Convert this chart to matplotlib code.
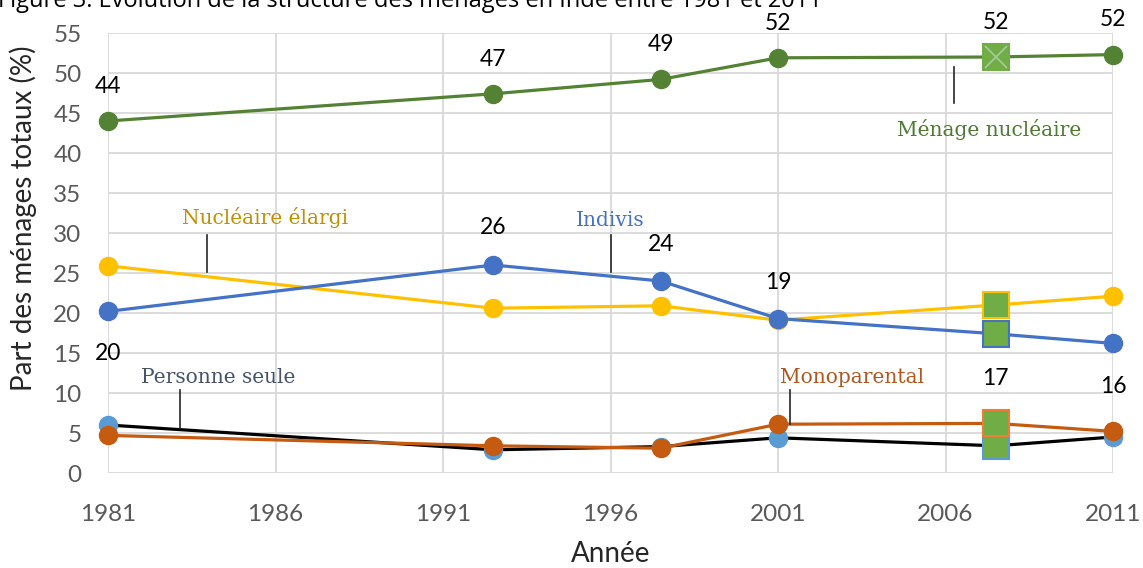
import matplotlib.pyplot as plt

# données
annees = [1981, 1992.5, 1997.5, 2001, 2007.5, 2011]
nucleaire = [44.0, 47.4, 49.2, 51.9, 52.0, 52.3]
elargi = [25.9, 20.6, 20.9, 19.1, 21.0, 22.1]
indivis = [20.2, 26.0, 24.0, 19.3, 17.4, 16.2]
seule = [6.0, 2.9, 3.3, 4.4, 3.4, 4.5]
monoparental = [4.7, 3.4, 3.1, 6.1, 6.2, 5.2]

lab_nucleaire = ['44', '47', '49', '52', '52', '52']
lab_indivis = ['20', '26', '24', '19', '17', '16']

x_ticks = [1981, 1986, 1991, 1996, 2001, 2006, 2011]
y_ticks = list(range(0, 56, 5))

titre = "Figure 3. Évolution de la structure des ménages en Inde entre 1981 et 2011"

# styles
num_font = 'Lato'
serif_font = 'DejaVu Serif'
c_vert = '#548235'
c_jaune = '#FFC000'
c_bleu = '#4472C4'
c_bleuclair = '#5B9BD5'
c_orange = '#C55A11'
c_carre = '#70AD47'

fig = plt.figure(figsize=(11.43, 5.68), dpi=100)
ax = fig.add_axes([108/1143, 1-473/568, (1113-108)/1143, (473-33)/568])

ms = 13
carre = 19
i8 = 4  # point 2007-08 dessiné en carré

def serie(y, lc, mc, ec):
    xs = [a for i, a in enumerate(annees) if i != i8]
    ys = [v for i, v in enumerate(y) if i != i8]
    ax.plot(annees, y, color=lc, lw=2.3, zorder=3, clip_on=False)
    ax.plot(xs, ys, 'o', color=mc, ms=ms, zorder=4, clip_on=False)
    ax.plot(annees[i8], y[i8], 's', mfc=c_carre, mec=ec, mew=1.5, ms=carre, zorder=5, clip_on=False)

serie(seule, 'black', c_bleuclair, c_bleuclair)
serie(monoparental, c_orange, c_orange, '#ED7D31')
serie(elargi, c_jaune, c_jaune, c_jaune)
serie(indivis, c_bleu, c_bleu, c_bleu)
serie(nucleaire, c_vert, c_vert, c_carre)
ax.plot(annees[i8], nucleaire[i8], 'x', color='#A9C99A', ms=carre-3, mew=1.2, zorder=6, clip_on=False)

# étiquettes de valeurs
for a, v, t in zip(annees, nucleaire, lab_nucleaire):
    ax.annotate(t, (a, v), xytext=(0, 25), textcoords='offset points', ha='center', va='center',
                fontsize=16.5, family=num_font, color='black', annotation_clip=False)
off_indivis = [-30, 27, 26, 26, -32, -31]
for a, v, t, o in zip(annees, indivis, lab_indivis, off_indivis):
    ax.annotate(t, (a, v), xytext=(0, o), textcoords='offset points', ha='center', va='center',
                fontsize=16.5, family=num_font, color='black', annotation_clip=False)

# noms des séries avec traits
noms = [
    ('Ménage nucléaire', 2007.3, 42.9, 2006.25, 50.75, 46.25, '#4E7A35'),
    ('Nucléaire élargi', 1985.7, 31.9, 1983.95, 29.75, 25.1, '#BF9000'),
    ('Indivis', 1996.0, 31.6, 1996.0, 29.75, 25.1, c_bleu),
    ('Personne seule', 1984.3, 11.9, 1983.15, 10.4, 5.6, '#44546A'),
    ('Monoparental', 2003.2, 11.9, 2001.35, 10.4, 6.1, '#B0561E'),
]
for t, tx, ty, lx, y1, y2, c in noms:
    ax.text(tx, ty, t, ha='center', va='center', fontsize=14.5, family=serif_font, color=c)
    ax.plot([lx, lx], [y1, y2], color='#262626', lw=1.2, zorder=6)

# axes
ax.set_xlim(1981, 2011)
ax.set_ylim(0, 55)
ax.set_xticks(x_ticks)
ax.set_yticks(y_ticks)
ax.tick_params(length=0, labelsize=17.5, labelcolor='#595959')
ax.tick_params(axis='x', pad=22)
ax.tick_params(axis='y', pad=19)
for lab in ax.get_xticklabels() + ax.get_yticklabels():
    lab.set_family(num_font)
ax.grid(True, color='#D9D9D9', lw=1.3)
ax.set_axisbelow(True)
for s in ax.spines.values():
    s.set_visible(False)

ax.set_xlabel('Année', fontsize=20, family=num_font, color='#262626', labelpad=12)
ax.set_ylabel('Part des ménages totaux (%)', fontsize=20, family=num_font, color='#262626')
ax.yaxis.set_label_coords(-0.0705, 0.58)

fig.text(-0.002, 1-7/568, titre, fontsize=17, family='Open Sans', color='black', ha='left', va='baseline')

fig.savefig('out.png', dpi=100)
